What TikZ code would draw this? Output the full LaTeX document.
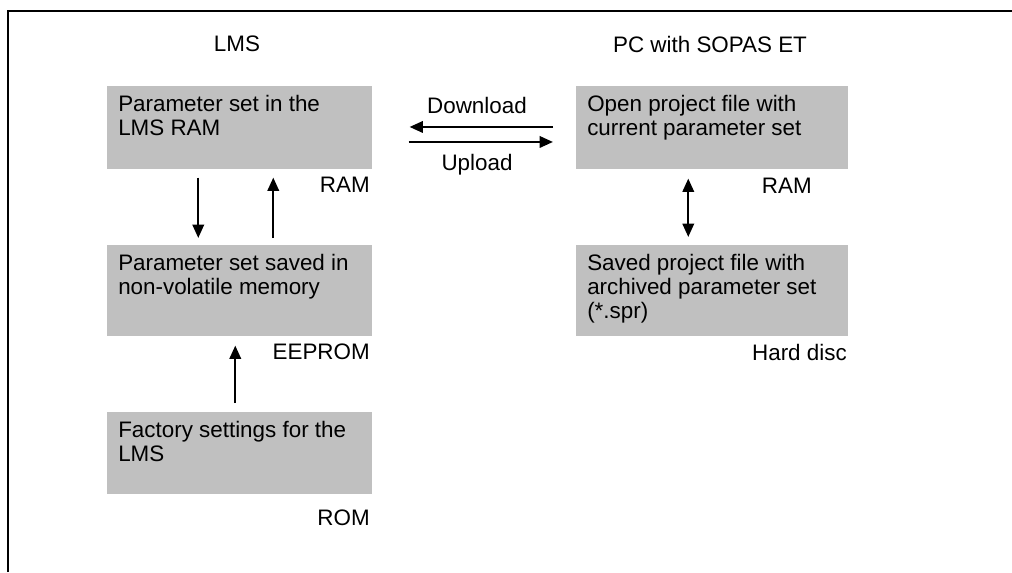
\documentclass[tikz,border=0pt]{standalone}
\usepackage{fontspec}
\setmainfont{Liberation Sans}
\usetikzlibrary{arrows.meta}
\definecolor{boxgray}{RGB}{192,192,192}
\begin{document}
\begin{tikzpicture}[x=0.75pt,y=-0.75pt,
  font=\fontsize{16.8pt}{18pt}\selectfont,
  lbox/.style={fill=boxgray,draw=none,anchor=north west,inner sep=0pt,minimum width=198.75pt},
  rbox/.style={fill=boxgray,draw=none,anchor=north west,inner sep=0pt,minimum width=204pt},
  btext/.style={anchor=north west,inner sep=0pt,align=left},
  mem/.style={anchor=east,inner sep=0pt},
  tip/.style={Triangle[length=10pt,width=8.5pt]},
  arr/.style={line width=1.8pt,-{Triangle[length=10pt,width=8.5pt]}},
  darr/.style={line width=1.8pt,{Triangle[length=10pt,width=8.5pt]}-{Triangle[length=10pt,width=8.5pt]}}]
\useasboundingbox (0,0) rectangle (1012,572);
\draw[line width=2pt] (8,572) -- (8,11) -- (1012,11);
\node (hl) at (237,44) {LMS};
\node (hr) at (710,44) {PC with SOPAS ET};
% left column
\node[lbox,minimum height=62.25pt] (b1) at (107,86) {};
\node[btext] (t1) at (118,95) {Parameter set in the\\LMS RAM};
\node[mem] (m1) at (370,185) {RAM};
\node[lbox,minimum height=68.25pt] (b2) at (107,245) {};
\node[btext] (t2) at (118,254) {Parameter set saved in\\non-volatile memory};
\node[mem] (m2) at (370,352) {EEPROM};
\node[lbox,minimum height=61.5pt] (b3) at (107,412) {};
\node[btext] (t3) at (118,421) {Factory settings for the\\LMS};
\node[mem] (m3) at (370,518) {ROM};
% right column
\node[rbox,minimum height=62.25pt] (b4) at (576,86) {};
\node[btext] (t4) at (587,95) {Open project file with\\current parameter set};
\node[mem] (m4) at (812,186) {RAM};
\node[rbox,minimum height=68.25pt] (b5) at (576,245) {};
\node[btext] (t5) at (587,254) {Saved project file with\\archived parameter set\\(*.spr)};
\node[mem] (m5) at (847,352) {Hard disc};
% arrows
\draw[arr,shorten <=6pt,shorten >=5.25pt] ([xshift=-31.125pt]b1.south) -- ([xshift=-31.125pt]b2.north);
\draw[arr,shorten <=5.25pt,shorten >=6pt] ([xshift=25.125pt]b2.north) -- ([xshift=25.125pt]b1.south);
\draw[arr,shorten <=6.75pt,shorten >=6.75pt] ([xshift=-3.375pt]b3.north) -- ([xshift=-3.375pt]b2.south);
\draw[darr,shorten <=6.75pt,shorten >=6pt] ([xshift=-18pt]b4.south) -- ([xshift=-18pt]b5.north);
\draw[arr,shorten <=17.25pt,shorten >=27.75pt] ([yshift=0.6pt]b4.west) -- ([yshift=0.6pt]b1.east);
\draw[arr,shorten <=27pt,shorten >=17.25pt] ([yshift=-10.65pt]b1.east) -- ([yshift=-10.65pt]b4.west);
\node (dl) at (477,105) {Download};
\node (ul) at (477,165) {Upload};
\end{tikzpicture}
\end{document}
